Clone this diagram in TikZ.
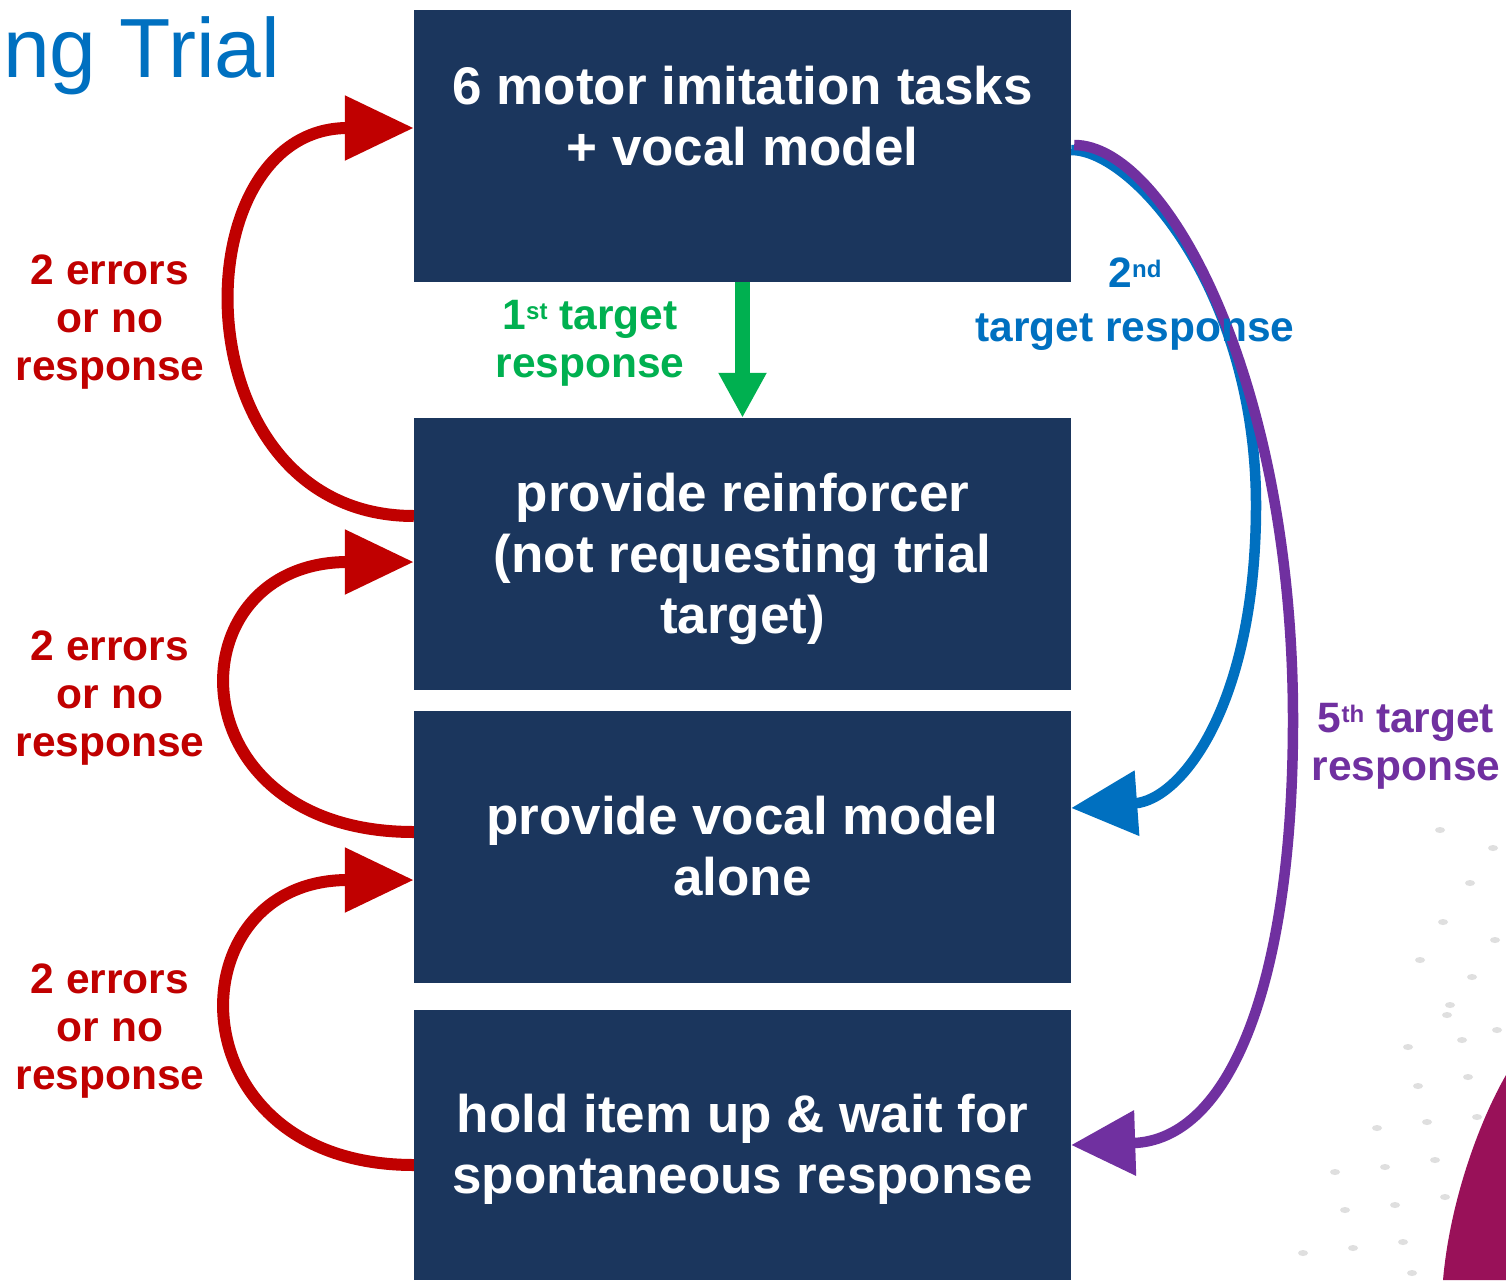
\documentclass[tikz,border=0pt]{standalone}
\usepackage{fontspec}
\setmainfont{Liberation Sans}
\usetikzlibrary{arrows.meta,calc}
\definecolor{navy}{HTML}{1B365D}
\definecolor{errred}{HTML}{C00000}
\definecolor{okgreen}{HTML}{00B050}
\definecolor{okblue}{HTML}{0070C0}
\definecolor{okpurple}{HTML}{7030A0}
\definecolor{deco}{HTML}{991159}
\newcommand{\ordsup}[1]{\raisebox{10pt}{\fontsize{24}{24}\selectfont #1}}
\begin{document}
\begin{tikzpicture}[x=1pt,y=-1pt,
  box/.style={fill=navy, minimum width=657pt, minimum height=272pt, inner sep=0pt},
  boxtext/.style={text=white, font=\bfseries\fontsize{53}{61}\selectfont, align=center, inner sep=0pt},
  lbl/.style={font=\bfseries\fontsize{42.5}{48}\selectfont, align=center, inner sep=0pt},
  redarr/.style={draw=errred, line width=12pt, -{Triangle[length=69pt,width=62pt]}},
  greenarr/.style={draw=okgreen, line width=15pt, -{Triangle[length=45pt,width=45pt]}},
  bluearr/.style={draw=okblue, line width=10.5pt, -{Triangle[length=66pt,width=63pt]}},
  purparr/.style={draw=okpurple, line width=10.5pt, -{Triangle[length=64pt,width=63pt]}},
  dot/.style={fill=gray!25, draw=none}
]
\useasboundingbox (0,0) rectangle (1506,1280);
\fill[white] (0,0) rectangle (1506,1280);

% decoration bottom right
\fill[deco] (1506,1075) .. controls (1480,1120) and (1450,1200) .. (1443,1280) -- (1506,1280) -- cycle;
\foreach \px/\py in {1440/830,1493/848,1470/883,1443/922,1495/940,1420/960,1472/977,1450/1005,1447/1015,1497/1030,1462/1040,1408/1047,1468/1077,1418/1086,1477/1117,1427/1122,1377/1128,1435/1160,1385/1167,1335/1172,1445/1197,1395/1205,1345/1210,1403/1242,1353/1248,1303/1253,1412/1273}
  \fill[dot] (\px,\py) ellipse (5pt and 3pt);

% title fragment
\node[anchor=base west, text=okblue, font=\fontsize{84}{84}\selectfont, inner sep=0pt] (title) at (3,77) {ng Trial};

% boxes
\node[box] (b1) at (742.5,146) {};
\node[boxtext] (t1) at (742.5,116) {6 motor imitation tasks\\+ vocal model};
\node[box] (b2) at (742.5,554) {};
\node[boxtext] (t2) at (742.5,559) {provide reinforcer\\(not requesting trial\\target)};
\node[box] (b3) at (742.5,847) {};
\node[boxtext] (t3) at (742.5,846) {provide vocal model\\alone};
\node[box, minimum height=270pt] (b4) at (742.5,1145) {};
\node[boxtext] (t4) at (742.5,1149) {hold item up \& wait for\\spontaneous response};

% red error arrows
\draw[redarr] ([yshift=38pt]b2.west) .. controls +(-236,0) and +(-236,0) .. ([yshift=18pt]b1.west);
\draw[redarr] ([yshift=15pt]b3.west) .. controls +(-242,0) and +(-242,0) .. ([yshift=-8pt]b2.west);
\draw[redarr] ([yshift=-20pt]b4.west) .. controls +(-242,0) and +(-242,0) .. ([yshift=-33pt]b3.west);

\node[lbl, text=errred] (e1) at (110,322) {2 errors\\or no\\response};
\node[lbl, text=errred] (e2) at (110,698) {2 errors\\or no\\response};
\node[lbl, text=errred] (e3) at (110,1031) {2 errors\\or no\\response};

% green arrow
\draw[greenarr] (b1.south) -- (b2.north);
\node[lbl, text=okgreen] (g1) at (590,343) {1\ordsup{st} target\\response};

% blue and purple arrows
\coordinate (bluemax) at (1256,505);
\coordinate (purpmax) at (1293,720);
\draw[bluearr] ([yshift=-4pt]b1.east) .. controls +(62,0) and +(0,-215) .. (bluemax)
  .. controls +(0,200) and +(110,-8) .. ([yshift=39pt]b3.east);
\draw[purparr] ([xshift=3pt,yshift=1pt]b1.east) .. controls +(92,0) and +(0,-340) .. (purpmax)
  .. controls +(0,260) and +(160,-5) .. (b4.east);

\node[lbl, text=okblue, font=\bfseries\fontsize{42.5}{54}\selectfont] (bl) at (1135,304) {2\ordsup{nd}\\target response};
\node[lbl, text=okpurple] (pl) at (1406,746) {5\ordsup{th} target\\response};
\end{tikzpicture}
\end{document}
